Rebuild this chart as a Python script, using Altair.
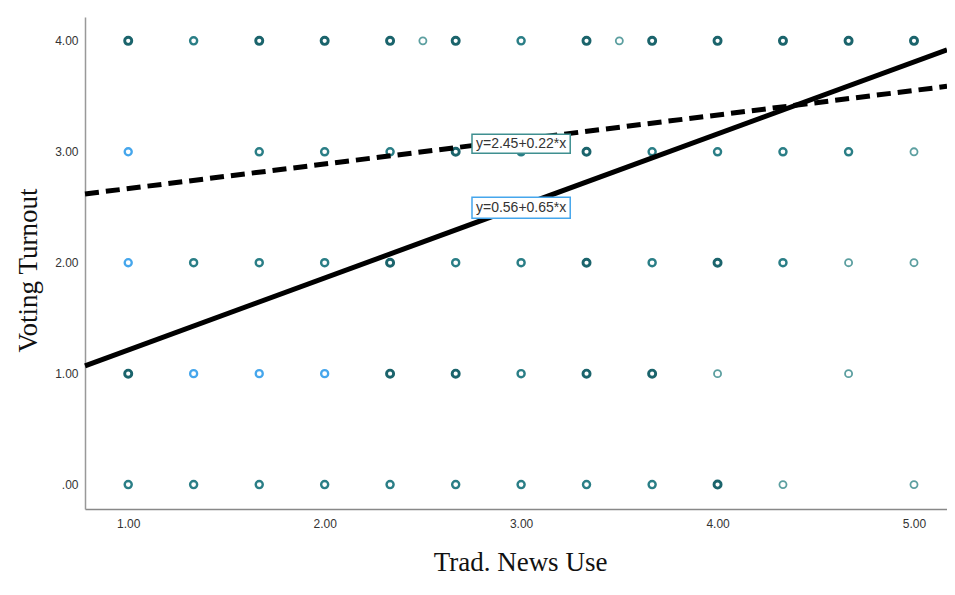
import altair as alt
import pandas as pd

# Scatter points: x (Trad. News Use), y (Voting Turnout), tone (shade group)
pt_x = [1.0, 1.333, 1.667, 2.0, 2.333, 2.5, 2.667, 3.0, 3.333, 3.5, 3.667, 4.0, 4.333, 4.667, 5.0,
        1.0, 1.667, 2.0, 2.333, 2.667, 3.0, 3.333, 3.667, 4.0, 4.333, 4.667, 5.0,
        1.0, 1.333, 1.667, 2.0, 2.333, 2.667, 3.0, 3.333, 3.667, 4.0, 4.333, 4.667, 5.0,
        1.0, 1.333, 1.667, 2.0, 2.333, 2.667, 3.0, 3.333, 3.667, 4.0, 4.667,
        1.0, 1.333, 1.667, 2.0, 2.333, 2.667, 3.0, 3.333, 3.667, 4.0, 4.333, 5.0]
pt_y = [4] * 15 + [3] * 12 + [2] * 13 + [1] * 11 + [0] * 12
pt_tone = ["d", "m", "d", "d", "d", "l", "d", "m", "d", "l", "d", "d", "d", "d", "d",
           "b", "m", "m", "m", "d", "m", "d", "m", "m", "m", "m", "l",
           "b", "m", "m", "m", "d", "m", "m", "d", "m", "d", "m", "l", "l",
           "d", "b", "b", "b", "d", "d", "m", "d", "d", "l", "l",
           "m", "m", "m", "m", "m", "m", "m", "m", "m", "d", "l", "l"]

tones = ["b", "d", "m", "l"]
tone_colors = ["#45a6ec", "#1b646c", "#2a7e86", "#5c9fa0"]
tone_widths = [2.3, 2.9, 2.4, 1.8]

# Fit line endpoints
fit_x = [0.78, 5.168]
solid_y = [1.07, 3.92]
dashed_y = [2.62, 3.59]

# Equation labels
lab_text = ["y=2.45+0.22*x", "y=0.56+0.65*x"]
lab_x = [3.0, 3.0]
lab_y = [3.073, 2.495]
lab_x1 = [2.75, 2.75]
lab_x2 = [3.25, 3.25]
lab_y1 = [2.987, 2.40]
lab_y2 = [3.159, 2.59]
lab_stroke = ["#3f8f90", "#45a6ec"]

pts = pd.DataFrame({"x": pt_x, "y": pt_y, "tone": pt_tone})
pts["sw"] = pts["tone"].map(dict(zip(tones, tone_widths)))
solid = pd.DataFrame({"x": fit_x, "y": solid_y})
dashed = pd.DataFrame({"x": fit_x, "y": dashed_y})
labs = pd.DataFrame({"t": lab_text, "x": lab_x, "y": lab_y, "x1": lab_x1, "x2": lab_x2,
                     "y1": lab_y1, "y2": lab_y2, "s": lab_stroke})

xs = alt.Scale(domain=[0.78, 5.168], nice=False, zero=False)
ys = alt.Scale(domain=[-0.22, 4.215], nice=False, zero=False)

xaxis = alt.Axis(
    title="Trad. News Use", values=[1, 2, 3, 4, 5], format=".2f", grid=False,
    ticks=False, labelPadding=9, labelFontSize=12, labelColor="#333333",
    labelFont="Liberation Sans", domainColor="#888888", domainWidth=1.5,
    titleFont="Liberation Serif", titleFontSize=27, titleFontWeight="normal",
    titleColor="#111111", titleX=435, titleY=53, titleBaseline="middle", titleAlign="center",
)
yaxis = alt.Axis(
    title="Voting Turnout", values=[0, 1, 2, 3, 4],
    labelExpr="datum.value == 0 ? '.00' : format(datum.value, '.2f')",
    grid=False, ticks=False, labelPadding=7, labelFontSize=12, labelColor="#333333",
    labelFont="Liberation Sans", domainColor="#999999", domainWidth=1.5,
    titleFont="Liberation Serif", titleFontSize=27, titleFontWeight="normal",
    titleColor="#111111", titleAngle=-90, titleX=-57, titleY=253,
    titleBaseline="middle", titleAlign="center",
)

points = alt.Chart(pts).mark_point(shape="circle", filled=False, size=50, opacity=1).encode(
    x=alt.X("x:Q", scale=xs, axis=xaxis),
    y=alt.Y("y:Q", scale=ys, axis=yaxis),
    color=alt.Color("tone:N", scale=alt.Scale(domain=tones, range=tone_colors), legend=None),
    strokeWidth=alt.StrokeWidth("sw:Q", scale=None),
)

solid_line = alt.Chart(solid).mark_line(color="black", strokeWidth=5).encode(
    x=alt.X("x:Q", scale=xs), y=alt.Y("y:Q", scale=ys)
)
dashed_line = alt.Chart(dashed).mark_line(color="black", strokeWidth=5, strokeDash=[14, 7]).encode(
    x=alt.X("x:Q", scale=xs), y=alt.Y("y:Q", scale=ys)
)

boxes = alt.Chart(labs).mark_rect(fill="white", strokeWidth=1.5).encode(
    x=alt.X("x1:Q", scale=xs), x2="x2:Q",
    y=alt.Y("y1:Q", scale=ys), y2="y2:Q",
    stroke=alt.Stroke("s:N", scale=None),
)
texts = alt.Chart(labs).mark_text(font="Liberation Sans", fontSize=14, color="#333333",
                                  baseline="middle", align="center").encode(
    x=alt.X("x:Q", scale=xs), y=alt.Y("y:Q", scale=ys), text="t:N"
)

chart = alt.layer(points, dashed_line, solid_line, boxes, texts).properties(
    width=862, height=492,
    autosize=alt.AutoSizeParams(type="none"),
    padding={"left": 77, "top": 9, "right": 0, "bottom": 70},
).configure_view(stroke=None)

chart.save("out.html", embed_options={"renderer": "svg", "actions": False})
